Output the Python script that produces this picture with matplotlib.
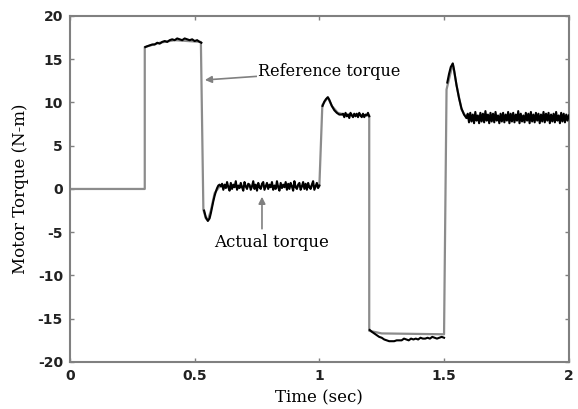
import numpy as np
import matplotlib
matplotlib.use("Agg")
import matplotlib.pyplot as plt

# Reference torque (gray trace)
ref_t = [0.0, 0.3, 0.3, 0.36, 0.42, 0.525, 0.535, 0.545, 0.553, 0.565, 0.58, 0.6, 1.0,
         1.012, 1.034, 1.05, 1.074, 1.1, 1.2, 1.2, 1.25, 1.5, 1.51, 1.535, 1.55, 1.57, 1.59, 2.0]
ref_v = [0.0, 0.0, 16.4, 16.9, 17.2, 17.0, -2.4, -3.4, -3.6, -2.5, -0.5, 0.3, 0.3,
         9.7, 10.6, 9.6, 8.8, 8.6, 8.5, -16.4, -16.7, -16.8, 11.5, 14.5, 12.0, 9.2, 8.2, 8.2]

# Actual torque: transient parts (time, value)
act_a_t = [0.302, 0.31, 0.32, 0.33, 0.34, 0.35, 0.36, 0.37, 0.38, 0.39, 0.40, 0.41, 0.42, 0.43,
           0.44, 0.45, 0.46, 0.47, 0.48, 0.49, 0.50, 0.51, 0.52, 0.527]
act_a_v = [16.4, 16.5, 16.6, 16.7, 16.7, 16.9, 16.8, 17.0, 17.1, 17.0, 17.2, 17.3, 17.2, 17.4,
           17.3, 17.2, 17.4, 17.3, 17.2, 17.3, 17.1, 17.2, 17.0, 16.9]
act_b_t = [0.538, 0.545, 0.553, 0.56, 0.565, 0.57, 0.575, 0.58, 0.585, 0.59, 0.595, 0.60, 0.605]
act_b_v = [-2.5, -3.3, -3.7, -3.4, -2.8, -2.1, -1.4, -0.8, -0.3, 0.1, 0.4, 0.5, 0.3]
# noisy plateau around zero, 0.61 .. 1.0
act_zero = [0.6, -0.1, 0.5, 0.1, 0.8, 0.2, -0.2, 0.7, 0.0, 0.5, 0.2, 0.9, -0.1, 0.4, 0.1, 0.7,
            0.2, -0.2, 0.8, 0.3, 0.0, 0.6, 0.5, -0.1, 0.3, 0.9, 0.0, 0.5, -0.2, 0.7, 0.2, 0.0,
            0.6, 0.8, -0.1, 0.3, 0.7, 0.0, 0.5, 0.2, 0.8, -0.1, 0.4, 0.0, 0.9, 0.2, -0.2, 0.7,
            0.1, 0.5, 0.2, 0.8, -0.1, 0.6, 0.0, 0.7, 0.3, -0.2, 0.9, 0.2, 0.0, 0.5, 0.7, -0.1,
            0.3, 0.8, 0.0, 0.6, -0.1, 0.7, 0.2, 0.0, 0.5, 0.9, -0.1, 0.3, 0.7, 0.1, 0.4]
act_c_t = [1.013, 1.02, 1.027, 1.034, 1.04, 1.05, 1.06, 1.07, 1.08, 1.09]
act_c_v = [9.6, 10.1, 10.4, 10.6, 10.3, 9.6, 9.1, 8.8, 8.6, 8.6]
# noisy plateau around 8.5, 1.095 .. 1.2
act_eight = [8.7, 8.3, 8.8, 8.4, 8.6, 8.2, 8.8, 8.5, 8.3, 8.7, 8.4, 8.7, 8.3, 8.8, 8.5, 8.3,
             8.7, 8.3, 8.6, 8.5, 8.8, 8.4]
act_d_t = [1.202, 1.21, 1.22, 1.23, 1.24, 1.25, 1.26, 1.27, 1.28, 1.29, 1.30, 1.31, 1.32]
act_d_v = [-16.3, -16.5, -16.7, -16.9, -17.1, -17.2, -17.4, -17.5, -17.6, -17.6, -17.6, -17.5, -17.5]
# plateau around -17.3, 1.33 .. 1.5
act_neg = [-17.5, -17.3, -17.4, -17.5, -17.3, -17.4, -17.3, -17.4, -17.2, -17.3, -17.3, -17.2,
           -17.3, -17.1, -17.2, -17.3, -17.2, -17.1, -17.2]
act_e_t = [1.513, 1.52, 1.527, 1.535, 1.54, 1.55, 1.56, 1.57, 1.58, 1.59]
act_e_v = [12.3, 13.3, 14.1, 14.5, 13.8, 12.0, 10.5, 9.3, 8.6, 8.2]
# noisy plateau around 8.25, 1.595 .. 2.0
act_end = [8.7, 7.7, 8.8, 7.8, 8.6, 7.6, 8.9, 7.9, 8.5, 7.6, 8.8, 7.8, 8.7, 7.7, 9.0, 7.9,
           8.6, 7.6, 8.8, 7.8, 8.7, 7.7, 8.9, 7.9, 8.5, 7.6, 8.7, 7.8, 8.8, 7.7, 8.6, 7.9,
           8.9, 7.6, 8.7, 7.8, 8.8, 7.7, 8.6, 7.9, 9.0, 7.6, 8.7, 7.8, 8.5, 7.7, 8.8, 7.9,
           8.7, 7.6, 8.9, 7.8, 8.6, 7.7, 8.8, 7.9, 8.7, 7.6, 8.6, 7.8, 8.9, 7.7, 8.7, 7.9,
           8.8, 7.6, 8.6, 7.8, 8.7, 7.7, 8.9, 7.9, 8.5, 7.6, 8.8, 7.8, 8.7, 7.7, 8.6, 7.9, 8.5]

xticks = [0, 0.5, 1, 1.5, 2]
xticklabels = ["0", "0.5", "1", "1.5", "2"]
yticks = [-20, -15, -10, -5, 0, 5, 10, 15, 20]
yticklabels = ["-20", "-15", "-10", "-5", "0", "5", "10", "15", "20"]

# assemble actual torque (gaps at the fast edges, where only the gray trace shows)
gap = [np.nan]
act_t = (list(act_a_t) + gap + list(act_b_t)
         + list(np.linspace(0.61, 1.0, len(act_zero))) + gap
         + list(act_c_t)
         + list(np.linspace(1.095, 1.2, len(act_eight))) + gap
         + list(act_d_t)
         + list(np.linspace(1.33, 1.5, len(act_neg))) + gap
         + list(act_e_t)
         + list(np.linspace(1.595, 2.0, len(act_end))))
act_v = (list(act_a_v) + gap + list(act_b_v) + list(act_zero) + gap + list(act_c_v)
         + list(act_eight) + gap + list(act_d_v) + list(act_neg) + gap + list(act_e_v)
         + list(act_end))

fig = plt.figure(figsize=(5.78, 4.09), dpi=100)
ax = fig.add_axes([0.121, 0.115, 0.863, 0.846])

ax.plot(ref_t, ref_v, color="#8c8c8c", lw=1.6, zorder=2)
ax.plot(act_t, act_v, color="black", lw=1.5, zorder=3)

ax.set_xlim(0, 2)
ax.set_ylim(-20, 20)
ax.set_xticks(xticks)
ax.set_xticklabels(xticklabels)
ax.set_yticks(yticks)
ax.set_yticklabels(yticklabels)
for lab in ax.get_xticklabels() + ax.get_yticklabels():
    lab.set_fontfamily("DejaVu Sans")
    lab.set_fontweight("bold")
    lab.set_fontsize(10)
    lab.set_color("#222222")
ax.tick_params(direction="in", length=3, width=1, color="#808080",
               top=True, right=True, pad=5)
for s in ax.spines.values():
    s.set_color("#808080")
    s.set_linewidth(1.5)

ax.set_xlabel("Time (sec)", family="DejaVu Serif", fontsize=12, labelpad=5)
ax.set_ylabel("Motor Torque (N-m)", family="DejaVu Serif", fontsize=12, labelpad=6)

ax.annotate("Reference torque", xy=(0.541, 12.6), xytext=(0.755, 13.6),
            family="DejaVu Serif", fontsize=11.5, va="center", ha="left",
            arrowprops=dict(arrowstyle="-|>", color="#808080", lw=1.2,
                            shrinkA=0, shrinkB=0, mutation_scale=10),
            bbox=dict(fc="white", ec="none", pad=1))
ax.annotate("", xy=(0.77, -0.9), xytext=(0.77, -4.6),
            arrowprops=dict(arrowstyle="-|>", color="#808080", lw=1.2,
                            shrinkA=0, shrinkB=0, mutation_scale=10))
ax.text(0.81, -6.2, "Actual torque", family="DejaVu Serif", fontsize=12,
        va="center", ha="center")

fig.savefig("out.png", dpi=100)
